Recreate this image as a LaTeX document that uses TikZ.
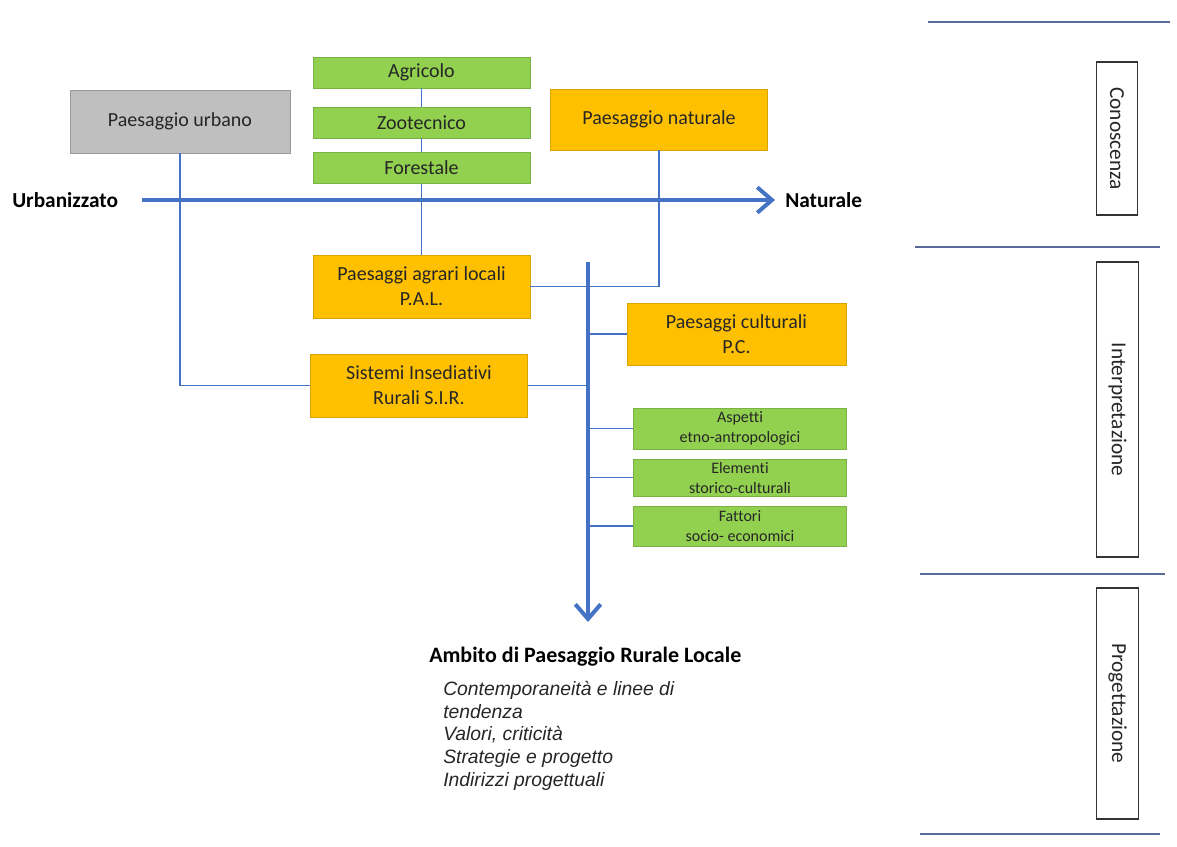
\documentclass[tikz,border=0pt]{standalone}
\usepackage{fontspec}
\setmainfont{Carlito}[Ligatures={NoCommon,NoRequired,NoContextual},RawFeature={-liga;-clig;-calt;-rlig;-dlig}]
\newfontfamily\arialfont{Liberation Sans}
\usetikzlibrary{arrows.meta}
\definecolor{cblue}{HTML}{4472C4}
\definecolor{corange}{HTML}{FFC000}
\definecolor{cgreen}{HTML}{92D050}
\definecolor{cgray}{HTML}{BFBFBF}
\definecolor{cline}{HTML}{5A6A96}
\definecolor{ctext}{HTML}{262626}
\begin{document}
\begin{tikzpicture}[x=0.75pt,y=-0.75pt,
  box/.style={minimum width=163pt, minimum height=47pt, inner sep=0pt, align=center,
    font=\fontsize{15}{18.75}\selectfont, text=ctext},
  orangebox/.style={box, fill=corange, draw=corange!85!black, line width=0.4pt},
  greenbox/.style={box, fill=cgreen, draw=cgreen!85!black, line width=0.4pt, minimum height=23pt},
  smallgreen/.style={greenbox, minimum width=160pt, font=\fontsize{12}{15}\selectfont},
  graybox/.style={box, fill=cgray, draw=cgray!80!black, line width=0.4pt},
  link/.style={draw=cblue, line width=1.1pt},
  bigarrow/.style={draw=cblue, line width=3pt, -{Straight Barb[length=11pt,width=19pt,line width=3pt]}},
  axislabel/.style={font=\fontsize{16}{19}\selectfont\bfseries, text=black, inner sep=0pt},
  sidebox/.style={draw=black!80, line width=0.8pt, fill=white, rotate=-90, minimum height=31pt,
    inner sep=0pt, font=\fontsize{16}{19}\selectfont, text=ctext},
  sepline/.style={draw=cline, line width=1.1pt}
]
\useasboundingbox (0,0) rectangle (1177,846);

% boxes
\node[graybox, minimum width=165pt] (urb) at (180,121.5) {Paesaggio urbano};
\node[greenbox] (agr) at (421.5,72.5) {Agricolo};
\node[greenbox] (zoo) at (421.5,122.5) {Zootecnico};
\node[greenbox] (for) at (421.5,168) {Forestale};
\node[orangebox, minimum height=46pt] (nat) at (659,119.5) {Paesaggio naturale};
\node[orangebox] (pal) at (421.5,286.5) {Paesaggi agrari locali\\P.A.L.};
\node[orangebox] (sir) at (419,385.5) {Sistemi Insediativi\\Rurali S.I.R.};
\node[orangebox, minimum width=164pt, minimum height=46.5pt] (pc) at (736.5,334) {Paesaggi culturali\\P.C.};
\node[smallgreen, minimum height=30.75pt] (asp) at (740,428.5) {Aspetti\\etno-antropologici};
\node[smallgreen, minimum height=28pt] (ele) at (740,477.5) {Elementi\\storico-culturali};
\node[smallgreen, minimum height=30pt] (fat) at (740,526) {Fattori\\socio- economici};

% axis
\node[axislabel, anchor=west] (urbz) at (12,200) {Urbanizzato};
\node[axislabel, anchor=west] (natl) at (785,200) {Naturale};
\coordinate (hstart) at (142,200);
\coordinate (hend) at (775,200);

% spine
\coordinate (stop) at (588,262);
\coordinate (sbot) at (588,622);

% thin links
\draw[link] (urb.south) |- (sir.west);
\draw[link] (agr.south) -- (zoo.north);
\draw[link] (zoo.south) -- (for.north);
\draw[link] (for.south) -- (pal.north);
\draw[link] (nat.south) |- (pal.east);
\draw[link] (sir.east) -- (sir.east -| stop);
\draw[link] (pc.west) -- (pc.west -| stop);
\draw[link] (asp.west) -- (asp.west -| stop);
\draw[link] (ele.west) -- (ele.west -| stop);
\draw[link] (fat.west) -- (fat.west -| stop);

% thick arrows
\draw[bigarrow] (hstart) -- (hend);
\draw[bigarrow] (stop) -- (sbot);

% result
\node[axislabel, anchor=west, font=\fontsize{16.5}{19}\selectfont\bfseries] (amb) at (429,657) {Ambito di Paesaggio Rurale Locale};
\node[anchor=north west, inner sep=0pt, align=left, text=ctext,
  font=\arialfont\itshape\fontsize{14.5}{17}\selectfont] (list) at (443,681)
  {Contemporaneità e linee di\\tendenza\\Valori, criticità\\Strategie e progetto\\Indirizzi progettuali};

% right column
\draw[sepline] (928,22) -- (1170,22);
\draw[sepline] (915,247) -- (1160,247);
\draw[sepline] (920,574) -- (1165,574);
\draw[sepline] (920,834) -- (1160,834);
\node[sidebox, minimum width=114.75pt] (con) at (1117,138.5) {Conoscenza};
\node[sidebox, minimum width=221.25pt] (int) at (1117.5,409.5) {Interpretazione};
\node[sidebox, minimum width=173.25pt] (prog) at (1117.5,703.5) {Progettazione};
\end{tikzpicture}
\end{document}
